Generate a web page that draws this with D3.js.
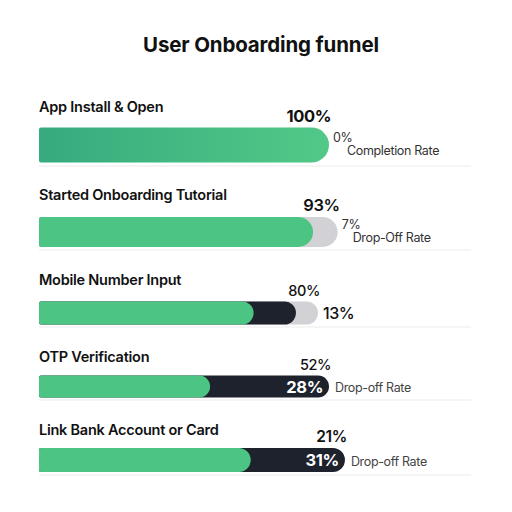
<!DOCTYPE html>
<html><head><meta charset="utf-8">
<script src="https://cdn.jsdelivr.net/npm/d3@7"></script>
<style>html,body{margin:0;padding:0;background:#fff;}svg{display:block;font-family:Inter,"Noto Sans",sans-serif;}</style>
</head><body><div id="chart"></div>
<script>
// ---- data ----
const title = "User Onboarding funnel";
const steps = ["App Install & Open","Started Onboarding Tutorial","Mobile Number Input","OTP Verification","Link Bank Account or Card"];
// segment ends on the bar scale (as drawn in the reference)
const greenEnd = [100, 94.5, 74, 59, 73];
const darkEnd  = [null, null, 88.6, 100, 105.5];
const greyEnd  = [null, 103, 96.2, null, null];
const topLabels = ["100%","93%","80%","52%","21%"];
const sidePct   = ["0%","7%","13%","28%","31%"];
const sideText  = ["Completion Rate","Drop-Off Rate","","Drop-off Rate","Drop-off Rate"];

// ---- layout ----
const W = 512, H = 512;
const svg = d3.select("#chart").append("svg").attr("width",W).attr("height",H);
const x = d3.scaleLinear().domain([0,100]).range([39,329]);
const yC = d3.scaleOrdinal().domain(steps).range([145,232,313,386.5,460]);
const bh = d3.scaleOrdinal().domain(steps).range([35,30,23,22,24]);
const labelY = d3.scaleOrdinal().domain(steps).range([112,200,285,362,435]);
const sepY = d3.scaleOrdinal().domain(steps).range([166,250,327,400,475]);
const topSize = [17,17,15,15,16];
const topWeight = [700,600,500,500,600];

const defs = svg.append("defs");
const grad = defs.append("linearGradient").attr("id","g1").attr("x1","0").attr("x2","1");
grad.append("stop").attr("offset","0").attr("stop-color","#37aa7e");
grad.append("stop").attr("offset","1").attr("stop-color","#52c987");

svg.append("text").attr("x",261).attr("y",52).attr("text-anchor","middle")
  .attr("font-size",20.5).attr("font-weight",700).attr("letter-spacing",-0.15).attr("fill","#111").text(title);

// rounded-right bar path
function bar(x0,x1,yc,h){
  const r = h/2, t = yc-h/2, rl = 2;
  const xe = Math.max(x1-r, x0+rl);
  return `M${x0+rl},${t} L${xe},${t} A${r},${r} 0 0 1 ${xe},${t+h} L${x0+rl},${t+h} Q${x0},${t+h} ${x0},${t+h-rl} L${x0},${t+rl} Q${x0},${t} ${x0+rl},${t} Z`;
}

const rows = svg.selectAll("g.row").data(steps).join("g").attr("class","row");

rows.append("line").attr("x1",39).attr("x2",471)
  .attr("y1",d=>sepY(d)).attr("y2",d=>sepY(d)).attr("stroke","#ececec").attr("stroke-width",1.2);

rows.append("text").attr("x",39).attr("y",d=>labelY(d)).attr("font-size",14.5).attr("font-weight",600)
  .attr("letter-spacing",-0.25).attr("fill","#111").text(d=>d);

rows.each(function(d,i){
  const g = d3.select(this);
  const yc = yC(d), h = bh(d);
  if (greyEnd[i]!=null) g.append("path").attr("d",bar(x(0),x(greyEnd[i]),yc,h)).attr("fill","#d2d2d6");
  if (darkEnd[i]!=null) g.append("path").attr("d",bar(x(0),x(darkEnd[i]),yc,h)).attr("fill","#1e222d");
  g.append("path").attr("d",bar(x(0),x(greenEnd[i]),yc,h)).attr("fill", i===0 ? "url(#g1)" : "#4cc584");
  const endX = x(d3.max([greenEnd[i],darkEnd[i],greyEnd[i]].filter(v=>v!=null)));
  // label above bar
  g.append("text").attr("x",endX+2).attr("y",yc-h/2-6).attr("text-anchor","end")
    .attr("font-size",topSize[i]-0.5).attr("font-weight",topWeight[i]).attr("letter-spacing",-0.4)
    .attr("fill","#111").text(topLabels[i]);
  if (i<2){
    g.append("text").attr("x",endX+4).attr("y",yc-3).attr("font-size",12.5).attr("letter-spacing",-0.3).attr("fill","#333").text(sidePct[i]);
    g.append("text").attr("x",endX+(i===0?18:15)).attr("y",yc+10).attr("font-size",12.5).attr("letter-spacing",-0.35).attr("fill","#333").text(sideText[i]);
  } else if (i===2){
    g.append("text").attr("x",endX+5).attr("y",yc+5.5).attr("font-size",16).attr("font-weight",500).attr("letter-spacing",-0.4).attr("fill","#111").text(sidePct[i]);
  } else {
    g.append("text").attr("x",endX-6).attr("y",yc+6).attr("text-anchor","end").attr("font-size",16.5)
      .attr("font-weight",700).attr("letter-spacing",-0.4).attr("fill","#fff").text(sidePct[i]);
    g.append("text").attr("x",endX+6).attr("y",yc+5.5).attr("font-size",12.5).attr("letter-spacing",-0.35).attr("fill","#444").text(sideText[i]);
  }
});
</script></body></html>
